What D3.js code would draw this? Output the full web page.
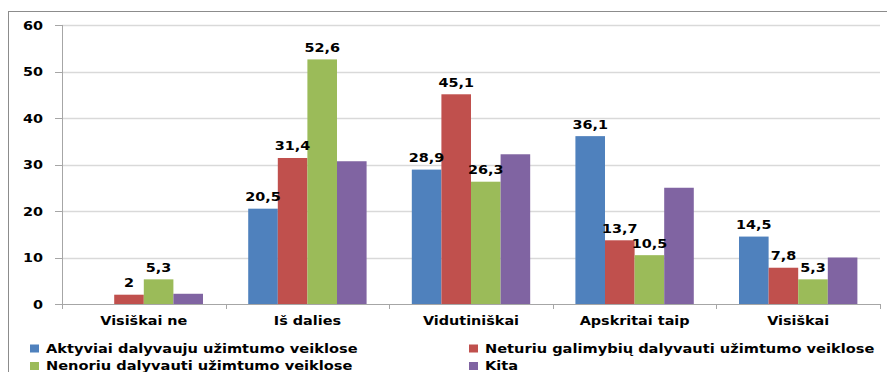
<!DOCTYPE html>
<html>
<head>
<meta charset="utf-8">
<script src="https://cdn.jsdelivr.net/npm/d3@7"></script>
<style>
  html, body { margin: 0; padding: 0; background: #fff; }
  svg { display: block; }
  text { font-family: "DejaVu Sans", Verdana, sans-serif; font-weight: bold; fill: #000; }
</style>
</head>
<body>
<svg id="chart" width="887" height="372"></svg>
<script>
// Kategorijos (x ašis)
const categories = ["Visiškai ne", "Iš dalies", "Vidutiniškai", "Apskritai taip", "Visiškai"];

// Serijų pavadinimai
const seriesNames = [
  "Aktyviai dalyvauju užimtumo veiklose",
  "Neturiu galimybių dalyvauti užimtumo veiklose",
  "Nenoriu dalyvauti užimtumo veiklose",
  "Kita"
];

// Serijų reikšmės (%)
const aktyviai = [0, 20.5, 28.9, 36.1, 14.5];
const neturiu  = [2, 31.4, 45.1, 13.7, 7.8];
const nenoriu  = [5.3, 52.6, 26.3, 10.5, 5.3];
const kita     = [2.2, 30.7, 32.2, 25, 10];

// Kurios serijos turi reikšmių žymes
const labelled = [true, true, true, false];

// Y ašies žymės
const yTicks = [0, 10, 20, 30, 40, 50, 60];

const colors = ["#4F81BD", "#C0504D", "#9BBB59", "#8064A2"];
const seriesValues = [aktyviai, neturiu, nenoriu, kita];

const svg = d3.select("#chart");
const plotLeft = 62, plotRight = 880, plotTop = 25, plotBottom = 304;
const textSquash = 0.88;

// Rėmelis
svg.append("rect")
  .attr("x", 8.5).attr("y", 11.5)
  .attr("width", 900).attr("height", 400)
  .attr("fill", "none").attr("stroke", "#8c8c8c").attr("stroke-width", 1);

const y = d3.scaleLinear().domain([0, 60]).range([plotBottom, plotTop]);
const x0 = d3.scaleBand().domain(categories).range([plotLeft, plotRight]).paddingInner(0).paddingOuter(0);
const x1 = d3.scaleBand().domain(d3.range(seriesNames.length)).range([0, x0.bandwidth()])
  .paddingInner(0).paddingOuter(0.764);

// Tinklelio linijos
svg.append("g").selectAll("line").data(yTicks.filter(t => t > 0)).join("line")
  .attr("x1", plotLeft).attr("x2", plotRight)
  .attr("y1", d => Math.round(y(d)) + 0.5).attr("y2", d => Math.round(y(d)) + 0.5)
  .attr("stroke", "#d9d9d9").attr("stroke-width", 1.3);

// Y ašis
const yAxis = svg.append("g");
yAxis.append("line")
  .attr("x1", plotLeft + 0.5).attr("x2", plotLeft + 0.5)
  .attr("y1", plotTop).attr("y2", plotBottom)
  .attr("stroke", "#a6a6a6");
yAxis.selectAll("line.tick").data(yTicks).join("line").attr("class", "tick")
  .attr("x1", plotLeft - 7).attr("x2", plotLeft)
  .attr("y1", d => Math.round(y(d)) + 0.5).attr("y2", d => Math.round(y(d)) + 0.5)
  .attr("stroke", "#a6a6a6");
yAxis.selectAll("text").data(yTicks).join("text")
  .attr("text-anchor", "end")
  .attr("font-size", 14.4)
  .attr("transform", d => `translate(43,${y(d) + 4.6}) scale(1,${textSquash})`)
  .text(d => d);

// Stulpeliai
const groups = svg.append("g").selectAll("g").data(categories).join("g")
  .attr("transform", c => `translate(${x0(c)},0)`);

groups.each(function(c, ci) {
  const g = d3.select(this);
  seriesValues.forEach((vals, si) => {
    const v = vals[ci];
    if (v > 0) {
      g.append("rect")
        .attr("x", x1(si)).attr("width", x1.bandwidth())
        .attr("y", y(v)).attr("height", y(0) - y(v))
        .attr("fill", colors[si]);
    }
  });
  seriesValues.forEach((vals, si) => {
    const v = vals[ci];
    if (labelled[si] && v > 0) {
      g.append("text")
        .attr("text-anchor", "middle")
        .attr("font-size", 14.4)
        .attr("transform", `translate(${x1(si) + x1.bandwidth() / 2},${y(v) - 7.5}) scale(1,${textSquash})`)
        .text(String(v).replace(".", ","));
    }
  });
});

// X ašis
const xAxis = svg.append("g");
xAxis.append("line")
  .attr("x1", plotLeft).attr("x2", plotRight)
  .attr("y1", plotBottom + 0.5).attr("y2", plotBottom + 0.5)
  .attr("stroke", "#a6a6a6");
const boundaries = categories.map(c => x0(c)).concat([plotRight]);
xAxis.selectAll("line.tick").data(boundaries).join("line").attr("class", "tick")
  .attr("x1", d => Math.round(d) + 0.5).attr("x2", d => Math.round(d) + 0.5)
  .attr("y1", plotBottom).attr("y2", plotBottom + 5)
  .attr("stroke", "#a6a6a6");
xAxis.selectAll("text").data(categories).join("text")
  .attr("text-anchor", "middle")
  .attr("font-size", 14.4)
  .attr("transform", c => `translate(${x0(c) + x0.bandwidth() / 2},325) scale(1,${textSquash})`)
  .text(c => c);

// Legenda
const legendPos = [
  { x: 30, y: 352.5 },
  { x: 469, y: 352.5 },
  { x: 30, y: 370 },
  { x: 469, y: 370 }
];
const legend = svg.append("g").selectAll("g").data(seriesNames).join("g");
legend.append("rect")
  .attr("x", (d, i) => legendPos[i].x)
  .attr("y", (d, i) => legendPos[i].y - 8)
  .attr("width", 9).attr("height", 8)
  .attr("fill", (d, i) => colors[i]);
legend.append("text")
  .attr("font-size", 14.6)
  .attr("transform", (d, i) => `translate(${legendPos[i].x + 16},${legendPos[i].y}) scale(1,${textSquash})`)
  .text(d => d);
</script>
</body>
</html>
